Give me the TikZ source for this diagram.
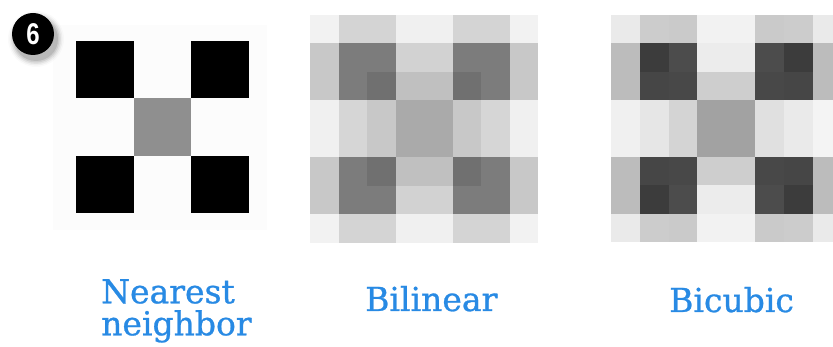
\documentclass[tikz,border=0pt]{standalone}
\usepackage{fontspec}
\newfontfamily\labfont[FakeBold=0.8]{DejaVu Serif}
\newfontfamily\numfont{Liberation Sans}
\definecolor{labblue}{RGB}{40,138,228}
\begin{document}
\begin{tikzpicture}[x=1pt,y=-1pt,
  lab/.style={font=\labfont\fontsize{33}{32}\selectfont, text=labblue, inner sep=0pt, anchor=base west},
  badgenum/.style={font=\numfont\bfseries\fontsize{30}{30}\selectfont, text=white, inner sep=0pt, xscale=0.8}]
\useasboundingbox (0,0) rectangle (833,347);
\clip (0,0) rectangle (833,347);
\fill[white] (0,0) rectangle (833,347);

% ---------- Nearest neighbor ----------
\fill[black!1.2] (53,25) rectangle (267,230);
\fill[black] (76,41) rectangle +(57.5,57.5);
\fill[black] (191,41) rectangle +(57.5,57.5);
\fill[black] (76,156) rectangle +(57.5,57.5);
\fill[black] (191,156) rectangle +(57.5,57.5);
\fill[black!44] (133.5,98.5) rectangle +(57.5,57.5);

% ---------- Bilinear ----------
\foreach \rowv [count=\r from 0] in {
  {242,212,212,240,240,212,212,242},
  {200,124,124,210,210,124,124,200},
  {200,124,112,192,192,112,124,200},
  {240,214,200,170,170,200,214,240},
  {240,214,200,170,170,200,214,240},
  {200,124,112,192,192,112,124,200},
  {200,124,124,210,210,124,124,200},
  {242,212,212,240,240,212,212,242}}{
  \foreach \v [count=\c from 0] in \rowv {
    \definecolor{cellc}{RGB}{\v,\v,\v}
    \fill[cellc] ({310+28.5*\c},{15+28.5*\r}) rectangle +(28.8,28.8);
  }
}

% ---------- Bicubic ----------
\foreach \rowv [count=\r from 0] in {
  {234,204,202,242,242,202,204,234},
  {188,60,76,236,236,76,60,188},
  {188,70,72,206,206,72,70,188},
  {240,230,212,162,162,224,234,244},
  {240,230,212,162,162,224,234,244},
  {188,70,72,206,206,72,70,188},
  {188,60,76,236,236,76,60,188},
  {234,204,202,242,242,202,204,234}}{
  \foreach \v [count=\c from 0] in \rowv {
    \definecolor{cellc}{RGB}{\v,\v,\v}
    \fill[cellc] ({611+28.8*\c},{15+28.4*\r}) rectangle +(29.1,28.7);
  }
}

% ---------- Badge ----------
\foreach \rr/\op in {28/0.02,26.5/0.04,25/0.06,23.5/0.08,22/0.1}{
  \fill[black,opacity=\op] (36,39) circle (\rr);
}
\fill[black] (33,34) circle (21);
\node[badgenum] (badge) at (33,34) {6};

% ---------- Labels ----------
\node[lab, anchor=north west, align=left] (lnear) at (101,279) {Nearest\\neighbor};
\node[lab] (lbil) at (365,311) {Bilinear};
\node[lab] (lbic) at (669,312) {Bicubic};
\end{tikzpicture}
\end{document}
